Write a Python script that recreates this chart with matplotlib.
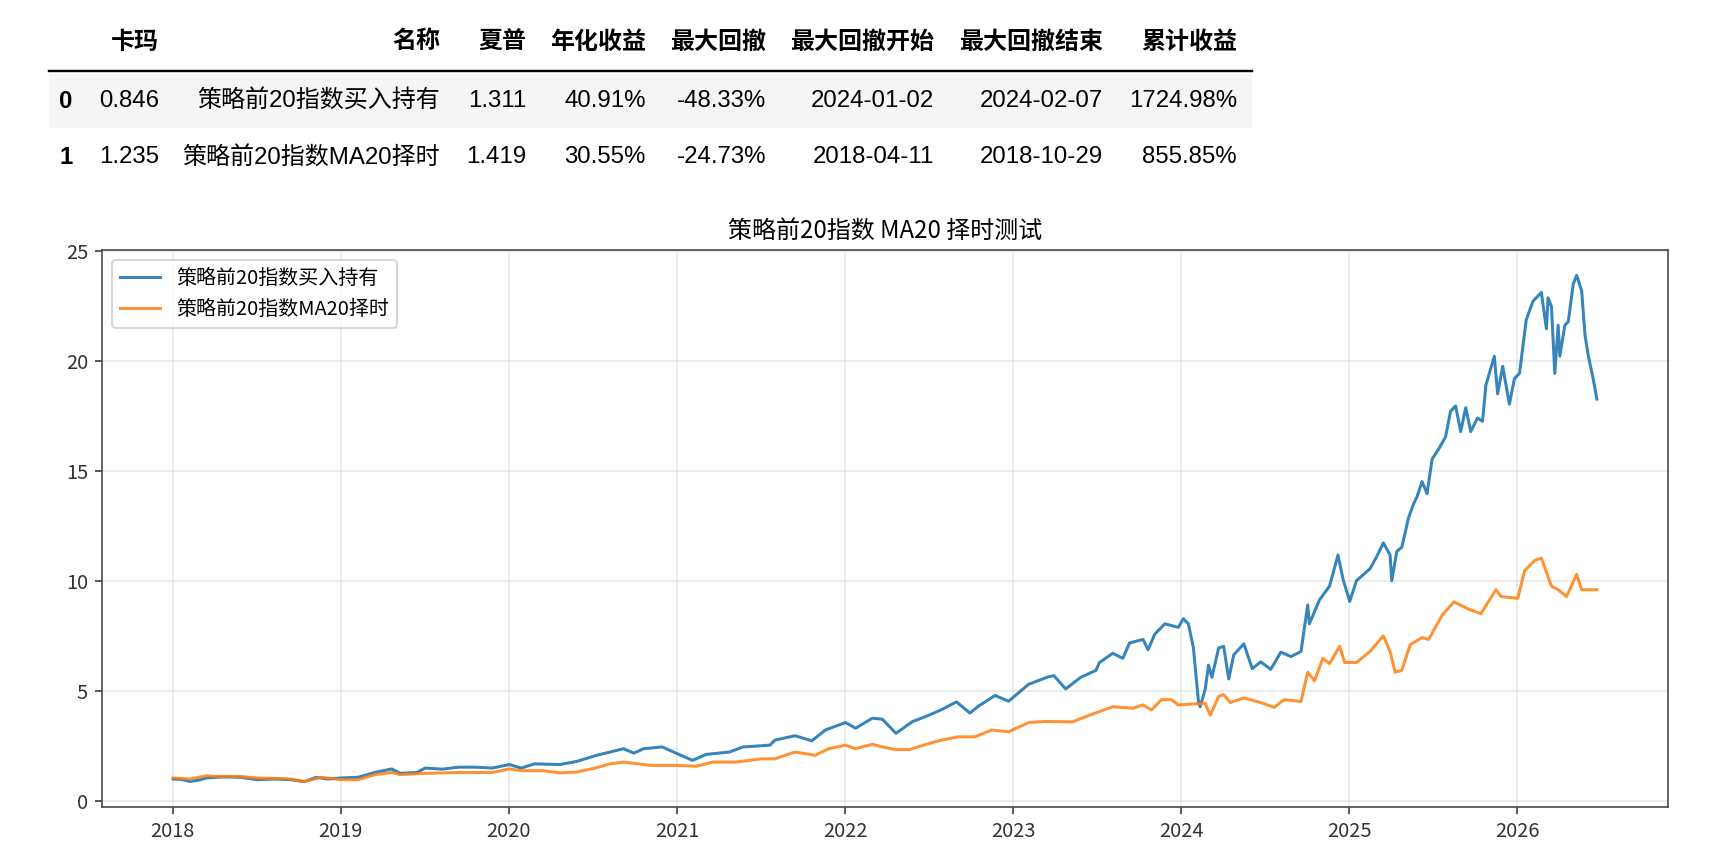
import numpy as np
import pandas as pd
import matplotlib
matplotlib.use('Agg')
import matplotlib.pyplot as plt
from matplotlib.patches import Rectangle
from matplotlib.lines import Line2D

plt.rcParams['font.family'] = ['Noto Sans CJK SC', 'DejaVu Sans']
plt.rcParams['axes.unicode_minus'] = False

# ─────────────────────────────────────────────
# TABLE DATA
# ─────────────────────────────────────────────
columns = ['卡玛', '名称', '夏普', '年化收益', '最大回撤', '最大回撤开始', '最大回撤结束', '累计收益']
row_index = ['0', '1']
rows = [
    ['0.846', '策略前20指数买入持有', '1.311', '40.91%', '-48.33%', '2024-01-02', '2024-02-07', '1724.98%'],
    ['1.235', '策略前20指数MA20择时', '1.419', '30.55%', '-24.73%', '2018-04-11', '2018-10-29', '855.85%'],
]

# ─────────────────────────────────────────────
# CURVE DATA (decimal year, net value)
# ─────────────────────────────────────────────
hold_t = [
    2018.00, 2018.05, 2018.10, 2018.15, 2018.20, 2018.30, 2018.40, 2018.50, 2018.60, 2018.70,
    2018.78, 2018.85, 2018.92, 2019.00, 2019.10, 2019.20, 2019.30, 2019.35, 2019.45, 2019.50,
    2019.60, 2019.70, 2019.80, 2019.90, 2020.00, 2020.07, 2020.15, 2020.30, 2020.40, 2020.52,
    2020.60, 2020.68, 2020.74, 2020.80, 2020.91, 2021.00, 2021.09, 2021.17, 2021.31, 2021.39,
    2021.55, 2021.58, 2021.70, 2021.80, 2021.88, 2022.00, 2022.06, 2022.16, 2022.22, 2022.30,
    2022.40, 2022.48, 2022.57, 2022.66, 2022.74, 2022.79, 2022.89, 2022.97, 2023.09, 2023.21,
    2023.24, 2023.31, 2023.40, 2023.49, 2023.51, 2023.59, 2023.65, 2023.69, 2023.77, 2023.80,
    2023.84, 2023.90, 2023.98, 2024.01, 2024.04, 2024.07, 2024.10, 2024.11, 2024.14, 2024.16,
    2024.18, 2024.22, 2024.25, 2024.28, 2024.31, 2024.37, 2024.42, 2024.47, 2024.53, 2024.59,
    2024.65, 2024.71, 2024.75, 2024.76, 2024.82, 2024.88, 2024.93, 2024.96, 2025.00, 2025.04,
    2025.12, 2025.16, 2025.20, 2025.24, 2025.25, 2025.28, 2025.31, 2025.35, 2025.38, 2025.40,
    2025.43, 2025.46, 2025.49, 2025.53, 2025.57, 2025.60, 2025.63, 2025.66, 2025.69, 2025.72,
    2025.76, 2025.79, 2025.81, 2025.86, 2025.88, 2025.91, 2025.95, 2025.98, 2026.01, 2026.05,
    2026.09, 2026.14, 2026.17, 2026.18, 2026.20, 2026.22, 2026.24, 2026.25, 2026.28, 2026.30,
    2026.33, 2026.35, 2026.38, 2026.40, 2026.42, 2026.45, 2026.47,
]
hold_v = [
    1.00, 0.98, 0.89, 0.95, 1.05, 1.10, 1.08, 0.97, 1.00, 0.97,
    0.88, 1.08, 1.00, 1.05, 1.08, 1.30, 1.46, 1.26, 1.30, 1.50,
    1.45, 1.54, 1.54, 1.50, 1.66, 1.50, 1.69, 1.66, 1.80, 2.08,
    2.23, 2.38, 2.18, 2.38, 2.46, 2.15, 1.85, 2.12, 2.23, 2.46,
    2.54, 2.77, 2.97, 2.74, 3.23, 3.57, 3.31, 3.77, 3.72, 3.08,
    3.62, 3.85, 4.15, 4.51, 4.00, 4.31, 4.80, 4.54, 5.31, 5.66,
    5.70, 5.10, 5.63, 5.94, 6.29, 6.72, 6.49, 7.19, 7.35, 6.88,
    7.59, 8.06, 7.90, 8.29, 8.06, 6.96, 4.53, 4.29, 5.08, 6.18,
    5.63, 6.96, 7.04, 5.55, 6.65, 7.15, 6.02, 6.33, 5.99, 6.77,
    6.57, 6.80, 8.92, 8.06, 9.15, 9.78, 11.19, 10.09, 9.08, 10.02,
    10.56, 11.11, 11.74, 11.19, 10.02, 11.35, 11.55, 12.89, 13.52, 13.83,
    14.53, 13.98, 15.55, 16.02, 16.56, 17.73, 17.97, 16.80, 17.89, 16.80,
    17.42, 17.27, 18.91, 20.23, 18.52, 19.77, 18.05, 19.22, 19.45, 21.88,
    22.73, 23.13, 21.48, 22.89, 22.50, 19.45, 21.64, 20.23, 21.64, 21.80,
    23.52, 23.91, 23.20, 21.17, 20.23, 19.14, 18.28,
]

ma_t = [
    2018.00, 2018.10, 2018.20, 2018.30, 2018.40, 2018.50, 2018.60, 2018.70, 2018.78, 2018.88,
    2019.00, 2019.10, 2019.20, 2019.30, 2019.35, 2019.50, 2019.70, 2019.90, 2020.00, 2020.07,
    2020.20, 2020.30, 2020.40, 2020.50, 2020.60, 2020.68, 2020.84, 2021.00, 2021.11, 2021.21,
    2021.35, 2021.50, 2021.58, 2021.70, 2021.82, 2021.90, 2022.00, 2022.06, 2022.16, 2022.22,
    2022.30, 2022.38, 2022.48, 2022.57, 2022.67, 2022.77, 2022.87, 2022.97, 2023.09, 2023.19,
    2023.35, 2023.45, 2023.59, 2023.71, 2023.77, 2023.82, 2023.88, 2023.94, 2023.98, 2024.14,
    2024.17, 2024.22, 2024.25, 2024.29, 2024.37, 2024.47, 2024.55, 2024.61, 2024.71, 2024.75,
    2024.79, 2024.84, 2024.88, 2024.94, 2024.97, 2025.04, 2025.12, 2025.20, 2025.24, 2025.27,
    2025.31, 2025.36, 2025.43, 2025.47, 2025.55, 2025.62, 2025.70, 2025.78, 2025.87, 2025.90,
    2026.00, 2026.04, 2026.10, 2026.14, 2026.20, 2026.24, 2026.29, 2026.35, 2026.38, 2026.47,
]
ma_v = [
    1.05, 1.00, 1.15, 1.10, 1.12, 1.05, 1.03, 1.00, 0.89, 1.08,
    0.97, 0.97, 1.20, 1.30, 1.20, 1.26, 1.30, 1.30, 1.46, 1.38,
    1.38, 1.28, 1.32, 1.48, 1.69, 1.77, 1.62, 1.62, 1.58, 1.77,
    1.77, 1.92, 1.92, 2.23, 2.08, 2.38, 2.54, 2.38, 2.58, 2.46,
    2.34, 2.34, 2.58, 2.77, 2.92, 2.92, 3.23, 3.15, 3.57, 3.62,
    3.60, 3.90, 4.29, 4.22, 4.37, 4.14, 4.61, 4.61, 4.37, 4.45,
    3.90, 4.76, 4.84, 4.48, 4.69, 4.48, 4.26, 4.61, 4.53, 5.86,
    5.47, 6.49, 6.25, 7.04, 6.30, 6.30, 6.80, 7.51, 6.80, 5.86,
    5.94, 7.12, 7.43, 7.35, 8.45, 9.06, 8.75, 8.52, 9.61, 9.30,
    9.22, 10.47, 10.94, 11.05, 9.77, 9.61, 9.30, 10.31, 9.61, 9.61,
]

series_names = ['策略前20指数买入持有', '策略前20指数MA20择时']
chart_title = '策略前20指数 MA20 择时测试'


def to_dates(years):
    base = pd.Timestamp('2018-01-02')
    days = (np.asarray(years) - 2018.0) * 365.25
    return base + pd.to_timedelta(days, unit='D')


W, H = 1712, 848
fig = plt.figure(figsize=(W / 144, H / 144), dpi=144, facecolor='white')


def fx(px):
    return px / W


def fy(py):
    return 1 - py / H


# ─────────────────────────────────────────────
# TABLE (pandas html look)
# ─────────────────────────────────────────────
tbl_font = ['Liberation Sans', 'Noto Sans CJK SC']
col_right = [159, 440, 526, 646, 766, 934, 1103, 1237]
idx_x = 66
head_y, row_y = 42, [101, 157]

fig.patches.append(Rectangle((fx(49), fy(128)), fx(1252) - fx(49), fy(74) - fy(128),
                             transform=fig.transFigure, facecolor='#f5f5f5',
                             edgecolor='none', zorder=0))
fig.lines.append(Line2D([fx(49), fx(1252)], [fy(71), fy(71)], transform=fig.transFigure,
                        color='black', linewidth=1.2))

for name, xr in zip(columns, col_right):
    fig.text(fx(xr), fy(head_y), name, ha='right', va='center', fontsize=12,
             fontweight='bold', family=tbl_font)

for i, row in enumerate(rows):
    fig.text(fx(idx_x), fy(row_y[i]), row_index[i], ha='center', va='center',
             fontsize=12, fontweight='bold', family=tbl_font)
    for val, xr in zip(row, col_right):
        fig.text(fx(xr), fy(row_y[i]), val, ha='right', va='center', fontsize=12,
                 family=tbl_font)

# ─────────────────────────────────────────────
# CHART
# ─────────────────────────────────────────────
ax = fig.add_axes([fx(102), fy(807), fx(1668) - fx(102), fy(250) - fy(807)])
ax.plot(to_dates(hold_t), hold_v, color='#1f77b4', alpha=0.9, linewidth=1.5,
        label=series_names[0])
ax.plot(to_dates(ma_t), ma_v, color='#ff7f0e', alpha=0.85, linewidth=1.5,
        label=series_names[1])
ax.set_title(chart_title, fontsize=12)
ax.grid(True, color='#d8d8d8', alpha=0.6, linewidth=0.8)
ax.legend(loc='upper left', fontsize=10)
ax.tick_params(labelsize=10, colors='#333333')
for spine in ax.spines.values():
    spine.set_color('#444444')

fig.savefig('out.png', dpi=144, facecolor='white')
